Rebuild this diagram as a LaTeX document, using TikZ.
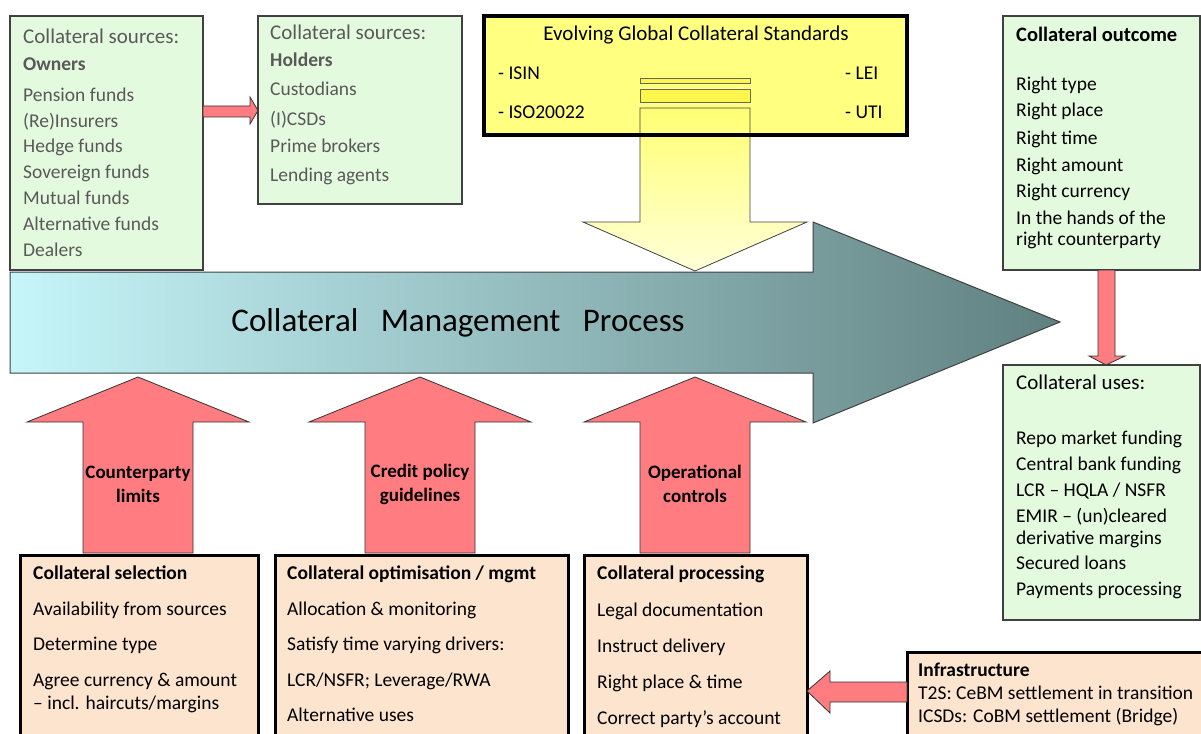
\documentclass[tikz,border=0pt]{standalone}
\usepackage{fontspec}
\setmainfont{Carlito}
\usetikzlibrary{positioning}
\definecolor{lightgreen}{RGB}{228,250,222}
\definecolor{peach}{RGB}{253,228,206}
\definecolor{stdyellow}{RGB}{255,255,128}
\definecolor{salmon}{RGB}{255,124,128}
\definecolor{textgrey}{RGB}{89,89,89}
\definecolor{cmplight}{RGB}{198,246,250}
\definecolor{cmpmid}{RGB}{166,216,219}
\definecolor{cmpdark}{RGB}{96,128,128}

\begin{document}
\begin{tikzpicture}[x=1pt,y=-1pt,
  greenbox/.style={draw=black!75,line width=1.2pt,fill=lightgreen,anchor=north west,inner sep=0pt,outer sep=0pt},
  peachbox/.style={draw=black,line width=3pt,fill=peach,anchor=north west,inner sep=0pt,outer sep=0pt},
  blockarrow/.style={draw=black!80,line width=.8pt,fill=salmon},
  item/.style={anchor=base west,inner sep=0pt,font=\fontsize{19.5}{23}\selectfont},
  bigitem/.style={item,font=\fontsize{21}{25}\selectfont},
  greytext/.style={text=textgrey},
  arrowlabel/.style={align=center,inner sep=0pt,font=\bfseries\fontsize{19}{24}\selectfont}]
\useasboundingbox (0,0) rectangle (1201,733);

% sources
\node[greenbox,minimum width=193,minimum height=254] (owners) at (10,16) {};
\node[greenbox,minimum width=204,minimum height=188] (holders) at (258,16) {};
\node[bigitem,greytext] (owners-h) at (23,44) {Collateral sources:};
\node[item,greytext,font=\bfseries\fontsize{19.5}{23}\selectfont] (owners-b) at (23,71) {Owners};
\foreach \y/\t [count=\i] in {102/Pension funds,128/(Re)Insurers,153/Hedge funds,178/Sovereign funds,204/Mutual funds,230/Alternative funds,256/Dealers}
  \node[item,greytext] (owners-\i) at (23,\y) {\t};
\node[bigitem,greytext] (holders-h) at (270,40) {Collateral sources:};
\node[item,greytext,font=\bfseries\fontsize{19.5}{23}\selectfont] (holders-b) at (270,67) {Holders};
\foreach \y/\t [count=\i] in {96/Custodians,125/(I)CSDs,153/Prime brokers,181/Lending agents}
  \node[item,greytext] (holders-\i) at (270,\y) {\t};
\draw[blockarrow] (owners.east|-0,106) -- (250,106) -- (250,97) -- (holders.west|-0,110.5) -- (250,124) -- (250,117) -- (owners.east|-0,117) -- cycle;

% standards
\node[anchor=north west,fill=stdyellow,minimum width=423,minimum height=119,inner sep=0pt,outer sep=0pt] (std) at (484,16) {};
\draw[draw=black!60,line width=.8pt,fill=yellow!70] (640,78) rectangle (750,83);
\draw[draw=black!60,line width=.8pt,fill=yellow!70] (640,89) rectangle (750,102);
\shade[draw=black!75,line width=.8pt,top color=yellow!55,bottom color=yellow!15] (640,108) -- (750,108) -- (750,222) -- (807,222) -- (695,271) -- (583,222) -- (640,222) -- cycle;
\draw[line width=3.5pt] (std.north west) rectangle (std.south east);
\node[anchor=base,inner sep=0pt,font=\fontsize{21}{25}\selectfont] (std-h) at (696,41) {Evolving Global Collateral Standards};
\node[item] (isin) at (498,80) {- ISIN};
\node[item] (iso) at (498,119) {- ISO20022};
\node[item] (lei) at (845,80) {- LEI};
\node[item] (uti) at (845,119) {- UTI};

% process
\shade[draw=black!75,line width=1pt,left color=cmplight,middle color=cmpmid,right color=cmpdark] (10,272) -- (813,272) -- (813,222) -- (1060,322) -- (813,423) -- (813,373) -- (10,373) -- cycle;
\node[font=\fontsize{33}{37}\selectfont] (cmp) at (458,323) {Collateral\hspace{.68em}Management\hspace{.68em}Process};

% outcome and uses
\node[greenbox,minimum width=197,minimum height=254] (outcome) at (1003,16) {};
\node[greenbox,minimum width=197,minimum height=255] (uses) at (1003,365) {};
\node[item,font=\bfseries\fontsize{20.5}{24}\selectfont] (outcome-h) at (1016,42) {Collateral outcome};
\foreach \y/\t [count=\i] in {91/Right type,117/Right place,144/Right time,171/Right amount,197/Right currency,224/In the hands of the,245/right counterparty}
  \node[item] (outcome-\i) at (1016,\y) {\t};
\node[bigitem] (uses-h) at (1016,389) {Collateral uses:};
\foreach \y/\t [count=\i] in {444/Repo market funding,470/Central bank funding,496/{LCR – HQLA / NSFR},522/EMIR – (un)cleared,544/derivative margins,569/Secured loans,595/Payments processing}
  \node[item] (uses-\i) at (1016,\y) {\t};
\draw[blockarrow] (1098,0|-outcome.south) -- (1098,356) -- (1089,356) -- (1106,0|-uses.north) -- (1125,356) -- (1115,356) -- (1115,0|-outcome.south) -- cycle;

% drivers
\foreach \c/\a/\b in {138/Counterparty/limits,420/Credit policy/guidelines,695/Operational/controls}{
  \draw[blockarrow] (\c-55,553) -- (\c-55,422) -- (\c-111,422) -- (\c,377) -- (\c+111,422) -- (\c+55,422) -- (\c+55,553) -- cycle;
  \node[arrowlabel] (lbl-\c) at (\c,484) {\a\\\b};
}

% processes
\node[peachbox,minimum width=238,minimum height=200] (selection) at (20,555) {};
\node[peachbox,minimum width=293,minimum height=200] (optim) at (275,555) {};
\node[peachbox,minimum width=223,minimum height=200] (processing) at (584,555) {};
\node[peachbox,minimum width=310,minimum height=100] (infra) at (907,652) {};
\node[item,font=\bfseries\fontsize{19.5}{23}\selectfont] (selection-h) at (33,579) {Collateral selection};
\foreach \y/\t [count=\i] in {615/Availability from sources,650/Determine type,686/Agree currency \& amount,709/{– incl. haircuts/margins}}
  \node[item] (selection-\i) at (33,\y) {\t};
\node[item,font=\bfseries\fontsize{19.5}{23}\selectfont] (optim-h) at (287,579) {Collateral optimisation / mgmt};
\foreach \y/\t [count=\i] in {615/Allocation \& monitoring,650/Satisfy time varying drivers:,686/{LCR/NSFR; Leverage/RWA},721/Alternative uses}
  \node[item] (optim-\i) at (287,\y) {\t};
\node[item,font=\bfseries\fontsize{19.5}{23}\selectfont] (processing-h) at (597,579) {Collateral processing};
\foreach \y/\t [count=\i] in {616/Legal documentation,652/Instruct delivery,688/Right place \& time,724/Correct party’s account}
  \node[item] (processing-\i) at (597,\y) {\t};
\node[item,font=\bfseries\fontsize{19.5}{23}\selectfont] (infra-h) at (918,676) {Infrastructure};
\node[item] (infra-1) at (918,699) {T2S: CeBM settlement in transition};
\node[item] (infra-2) at (918,722) {ICSDs: CoBM settlement (Bridge)};
\draw[blockarrow] (infra.west|-0,682) -- (830,682) -- (830,671) -- (processing.east|-0,691) -- (830,713) -- (830,702) -- (infra.west|-0,702) -- cycle;
\end{tikzpicture}
\end{document}
